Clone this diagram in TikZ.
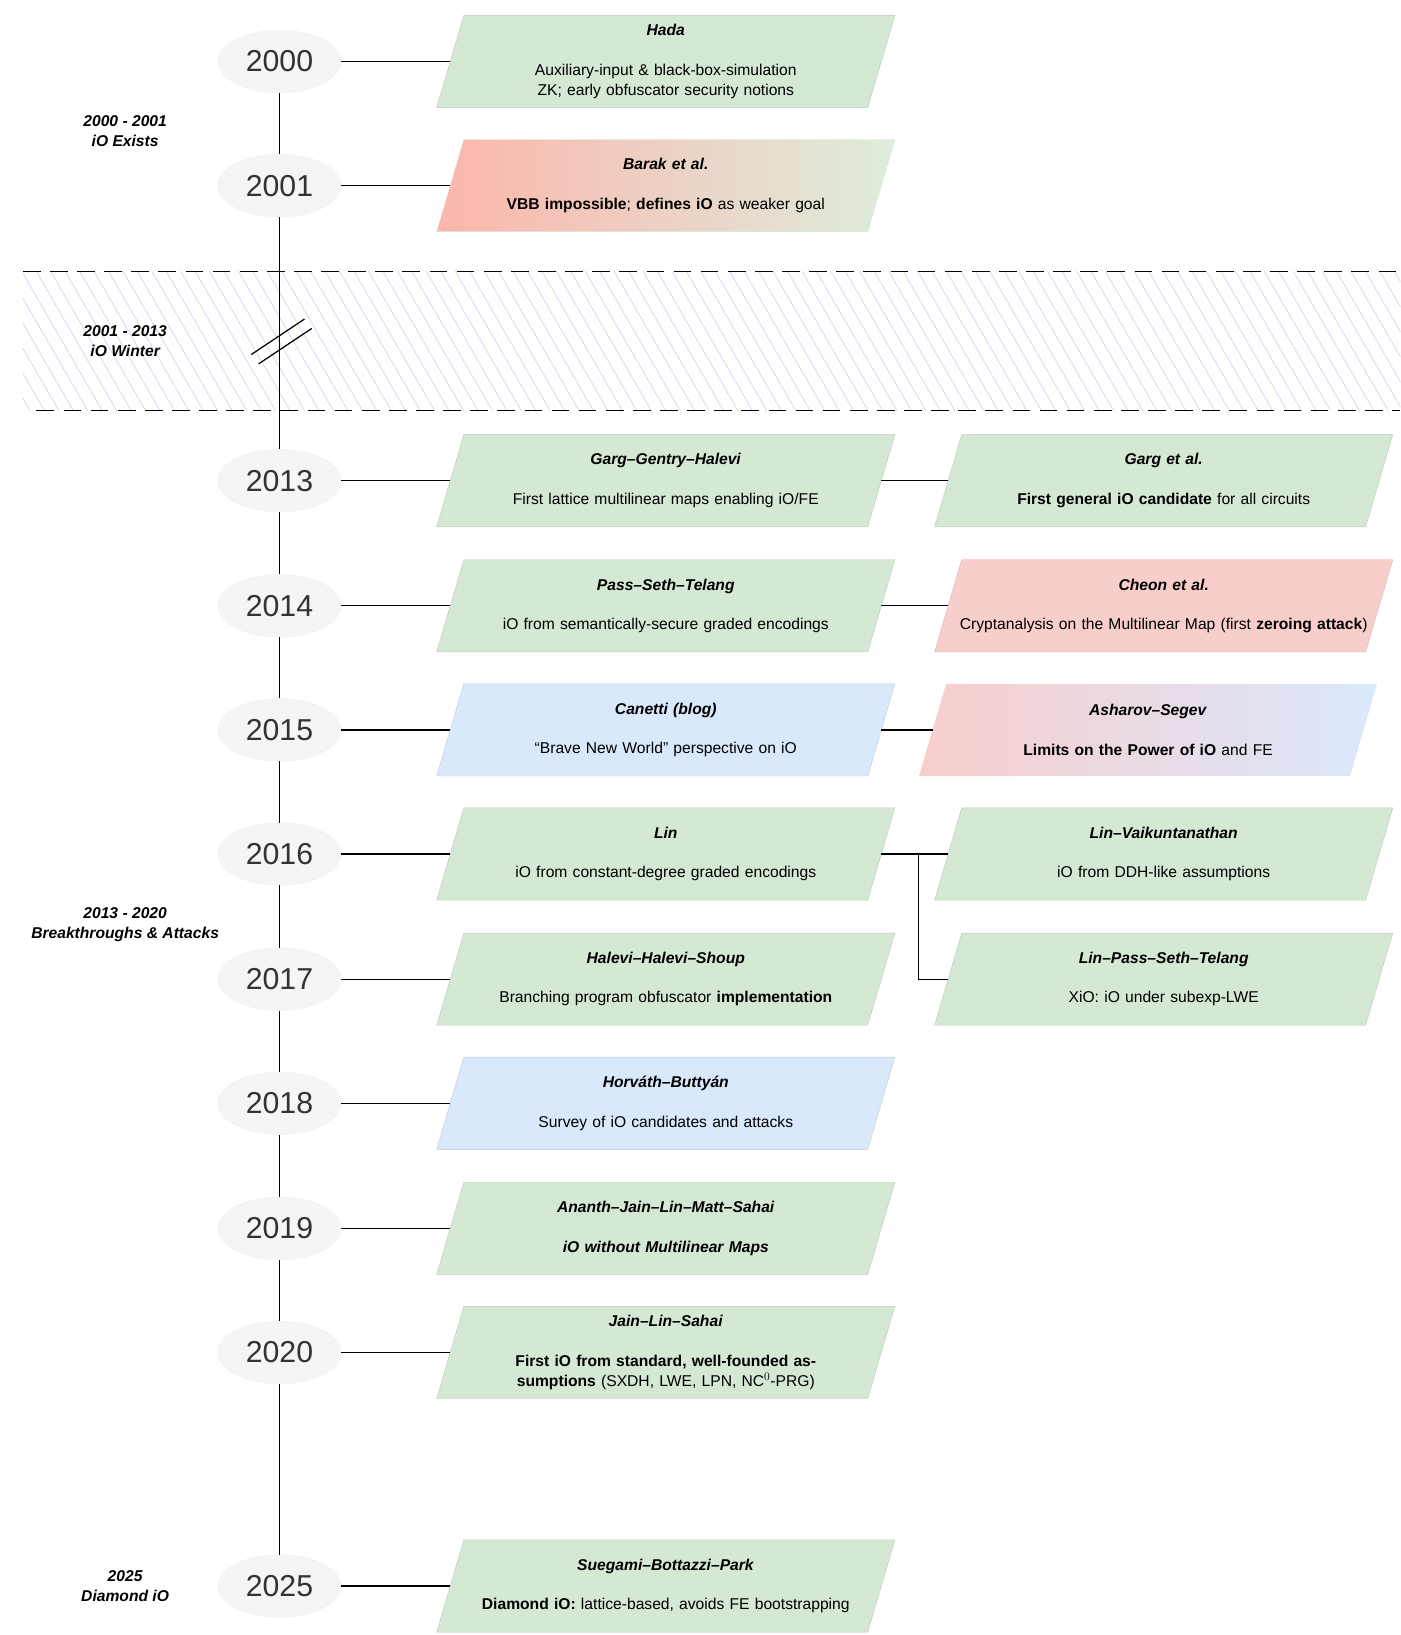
\documentclass[tikz,border=0pt]{standalone}
\usepackage{fontspec}
\setmainfont{Liberation Sans}
\usetikzlibrary{shapes.geometric,positioning,backgrounds,patterns.meta}
\definecolor{evgreen}{HTML}{D5E8D4}
\definecolor{evblue}{HTML}{DAE8FC}
\definecolor{evred}{HTML}{F8CECC}
\definecolor{evsalmon}{HTML}{FCB6AB}
\definecolor{hatchblue}{HTML}{C9D6F5}
\tikzset{
  year/.style={ellipse, fill=black!4, draw=black!6, minimum width=118, minimum height=60,
    inner sep=0, font=\fontsize{29}{30}\selectfont, text=black!80},
  event/.style={minimum width=413, minimum height=88, text width=395, inner sep=0,
    align=center, font=\fontsize{15}{19}\selectfont},
  era/.style={align=center, font=\fontsize{15}{19}\selectfont\bfseries\itshape},
  link/.style={line width=1.2pt},
}
% slanted background behind an event node
\newcommand{\slantbg}[2]{%
  \begin{scope}[on background layer]
    \path[#2] ([xshift=13]#1.north west) -- ([xshift=13]#1.north east)
      -- ([xshift=-13]#1.south east) -- ([xshift=-13]#1.south west) -- cycle;
  \end{scope}}
\newcommand{\ttl}[1]{\textbf{\textit{#1}}\\[19pt]}

\begin{document}
\begin{tikzpicture}[x=1pt, y=-1pt]
    \useasboundingbox (0,0) rectangle (1343,1568);
    % iO winter band
    \begin{scope}[on background layer]
        \fill[pattern={Lines[angle=-60, distance=12pt, line width=0.7pt]}, pattern color=hatchblue]
            (22,260) rectangle (1343,394);
    \end{scope}
    \draw[line width=1pt, dash pattern=on 17pt off 9pt] (22,260) -- (1343,260);
    \draw[line width=1pt, dash pattern=on 17pt off 9pt] (35,394) -- (1343,394);

    % years
    \foreach \yr/\ypos in {2000/59, 2001/178, 2013/461, 2014/581, 2015/700, 2016/819,
        2017/939, 2018/1058, 2019/1178, 2020/1297, 2025/1521}
        \node[year] (y\yr) at (268,\ypos) {\yr};
    \foreach \a/\b in {2000/2001, 2001/2013, 2013/2014, 2014/2015, 2015/2016, 2016/2017,
        2017/2018, 2018/2019, 2019/2020, 2020/2025}
        \draw[link] (y\a) -- (y\b);
    \draw[line width=1.2pt] (241,340) -- (292,306);
    \draw[line width=1.2pt] (248,349) -- (299,315);

    % eras
    \node[era] (eraA) at (120,126) {2000 - 2001\\iO Exists};
    \node[era] (eraB) at (120,327) {2001 - 2013\\iO Winter};
    \node[era] (eraC) at (120,887) {2013 - 2020\\Breakthroughs \& Attacks};
    \node[era] (eraD) at (120,1521) {2025\\Diamond iO};

    % events
    \node[event] (hada) at (638.5,59) {\ttl{Hada}Auxiliary-input \& black-box-simulation ZK; early obfuscator security notions};
    \slantbg{hada}{fill=evgreen, draw=evgreen!85!black!90}
    \node[event] (barak) at (638.5,178) {\ttl{Barak et al.}\textbf{VBB impossible}; \textbf{defines iO} as weaker goal};
    \slantbg{barak}{left color=evsalmon, right color=evgreen!80!white, draw=evgreen}
    \node[event] (ggh) at (638.5,461) {\ttl{Garg–Gentry–Halevi}First lattice multilinear maps enabling iO/FE};
    \slantbg{ggh}{fill=evgreen, draw=evgreen!85!black!90}
    \node[event] (garg) at (1116,461) {\ttl{Garg et al.}\textbf{First general iO candidate} for all circuits};
    \slantbg{garg}{fill=evgreen, draw=evgreen!85!black!90}
    \node[event] (pst) at (638.5,581) {\ttl{Pass–Seth–Telang}iO from semantically-secure graded encodings};
    \slantbg{pst}{fill=evgreen, draw=evgreen!85!black!90}
    \node[event] (cheon) at (1116,581) {\ttl{Cheon et al.}Cryptanalysis on the Multilinear Map (first \textbf{zeroing attack})};
    \slantbg{cheon}{fill=evred, draw=evred!85!black!90}
    \node[event] (canetti) at (638.5,700) {\ttl{Canetti (blog)}“Brave New World” perspective on iO};
    \slantbg{canetti}{fill=evblue, draw=evblue!85!black!90}
    \node[event] (asharov) at (1101,700) {\ttl{Asharov–Segev}\textbf{Limits on the Power of iO} and FE};
    \slantbg{asharov}{left color=evred, right color=evblue, draw=none}
    \node[event] (lin) at (638.5,819) {\ttl{Lin}iO from constant-degree graded encodings};
    \slantbg{lin}{fill=evgreen, draw=evgreen!85!black!90}
    \node[event] (lv) at (1116,819) {\ttl{Lin–Vaikuntanathan}iO from DDH-like assumptions};
    \slantbg{lv}{fill=evgreen, draw=evgreen!85!black!90}
    \node[event] (hhs) at (638.5,939) {\ttl{Halevi–Halevi–Shoup}Branching program obfuscator \textbf{implementation}};
    \slantbg{hhs}{fill=evgreen, draw=evgreen!85!black!90}
    \node[event] (lpst) at (1116,939) {\ttl{Lin–Pass–Seth–Telang}XiO: iO under subexp-LWE};
    \slantbg{lpst}{fill=evgreen, draw=evgreen!85!black!90}
    \node[event] (hb) at (638.5,1058) {\ttl{Horváth–Buttyán}Survey of iO candidates and attacks};
    \slantbg{hb}{fill=evblue, draw=evblue!85!black!90}
    \node[event] (ajlms) at (638.5,1178) {\ttl{Ananth–Jain–Lin–Matt–Sahai}\textbf{\textit{iO without Multilinear Maps}}};
    \slantbg{ajlms}{fill=evgreen, draw=evgreen!85!black!90}
    \node[event] (jls) at (638.5,1297) {\ttl{Jain–Lin–Sahai}\textbf{First iO from standard, well-founded assumptions} (SXDH, LWE, LPN, NC$^0$-PRG)};
    \slantbg{jls}{fill=evgreen, draw=evgreen!85!black!90}
    \node[event] (sbp) at (638.5,1521) {\ttl{Suegami–Bottazzi–Park}\textbf{Diamond iO:} lattice-based, avoids FE bootstrapping};
    \slantbg{sbp}{fill=evgreen, draw=evgreen!85!black!90}

    % connectors
    \draw[link] (y2000) -- (hada.west);
    \draw[link] (y2001) -- (barak.west);
    \draw[link] (y2013) -- (ggh.west);
    \draw[link] (y2014) -- (pst.west);
    \draw[link] (y2015) -- (canetti.west);
    \draw[link] (y2016) -- (lin.west);
    \draw[link] (y2017) -- (hhs.west);
    \draw[link] (y2018) -- (hb.west);
    \draw[link] (y2019) -- (ajlms.west);
    \draw[link] (y2020) -- (jls.west);
    \draw[link] (y2025) -- (sbp.west);
    \draw[link] (ggh.east) -- (garg.west);
    \draw[link] (pst.east) -- (cheon.west);
    \draw[link] (canetti.east) -- (asharov.west);
    \draw[link] (lin.east) -- (lv.west);
    \draw[link] (lin.east) ++(36,0) |- (lpst.west);
\end{tikzpicture}
\end{document}
